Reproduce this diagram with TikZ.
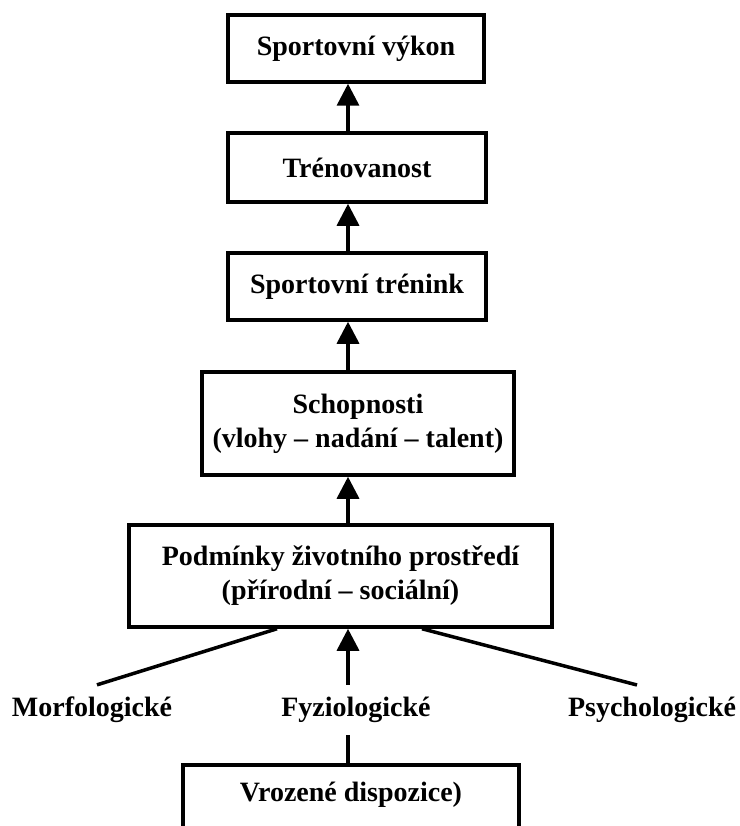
\documentclass[tikz,border=0pt]{standalone}
\usepackage{fontspec}
\setmainfont{Liberation Serif}
\usetikzlibrary{arrows.meta}

\begin{document}
\begin{tikzpicture}[x=1pt,y=-1pt]
    \tikzstyle{every node}+=[font=\fontsize{28}{34}\selectfont\bfseries, align=center]
    \tikzstyle{box}=[draw=black, line width=3.5pt, inner sep=0pt]
    \tikzstyle{arr}=[black, line width=3.5pt, -{Triangle[length=22pt,width=22pt]}]
    \tikzstyle{spoke}=[black, line width=3.5pt]
    \useasboundingbox (0,0) rectangle (739,826);
    \coordinate (axis) at (348,0);
    \node[box, minimum width=256pt, minimum height=67pt] (vykon) at (356,48.5) {Sportovní výkon};
    \node[box, minimum width=258pt, minimum height=69pt] (trenovanost) at (357,167.5) {Trénovanost};
    \node[box, minimum width=258pt, minimum height=67pt] (trenink) at (357,286.5) {Sportovní trénink};
    \node[box, minimum width=312pt, minimum height=103pt] (schopnosti) at (358,423.5) {Schopnosti\\(vlohy – nadání – talent)};
    \node[box, minimum width=423pt, minimum height=102pt] (podminky) at (340.5,576) {Podmínky životního prostředí\\(přírodní – sociální)};
    \node[inner ysep=12pt] (morfo) at (92,710) {Morfologické};
    \node[inner ysep=12pt] (fyzio) at (356,710) {Fyziologické};
    \node[inner ysep=12pt] (psycho) at (652,710) {Psychologické};
    \node[box, anchor=north, minimum width=336pt, inner ysep=17pt, text depth=70pt] (dispozice) at (351,763) {Vrozené dispozice)};
    \draw[arr] (trenovanost.north -| axis) -- (vykon.south -| axis);
    \draw[arr] (trenink.north -| axis) -- (trenovanost.south -| axis);
    \draw[arr] (schopnosti.north -| axis) -- (trenink.south -| axis);
    \draw[arr] (podminky.north -| axis) -- (schopnosti.south -| axis);
    \draw[arr] (fyzio.north -| axis) -- (podminky.south -| axis);
    \draw[spoke] ([xshift=5pt]morfo.north) -- (podminky.south -| 277,0);
    \draw[spoke] ([xshift=-15pt]psycho.north) -- (podminky.south -| 422,0);
    \draw[spoke] (fyzio.south -| axis) -- (dispozice.north -| axis);
\end{tikzpicture}
\end{document}
